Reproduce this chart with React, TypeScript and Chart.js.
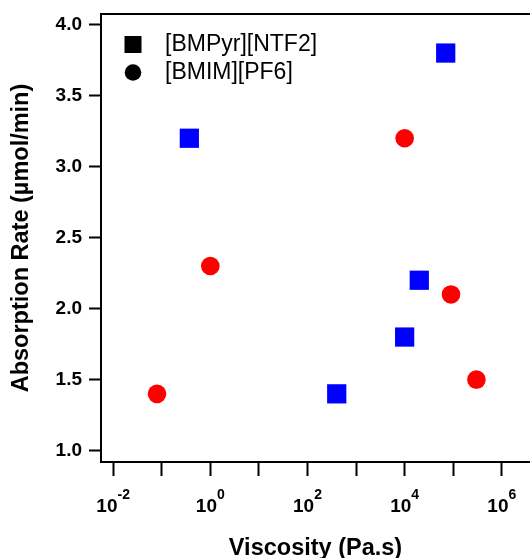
import React, { useEffect, useRef } from 'react';
import { Chart, registerables } from 'chart.js';

Chart.register(...registerables);

// ---- data ----
const seriesNames = ['[BMPyr][NTF2]', '[BMIM][PF6]'];
const ntf2Viscosity = [0.37, 400, 1e4, 2e4, 7e4];
const ntf2Rate = [3.2, 1.4, 1.8, 2.2, 3.8];
const pf6Viscosity = [0.08, 1, 1e4, 9e4, 3e5];
const pf6Rate = [1.4, 2.3, 3.2, 2.1, 1.5];
const xTickExponents = [-2, -1, 0, 1, 2, 3, 4, 5, 6];
const xLabelExponents = [-2, 0, 2, 4, 6];
const yTicks = [1.0, 1.5, 2.0, 2.5, 3.0, 3.5, 4.0];
const xTitle = 'Viscosity (Pa.s)';
const yTitle = 'Absorption Rate (µmol/min)';
const xMin = Math.pow(10, -2.25);
const xMax = Math.pow(10, 6.58);
const yMin = 0.92;
const yMax = 4.075;

const FONT = '"Liberation Sans", Arial, Helvetica, sans-serif';

const decorPlugin = {
  id: 'decor',
  afterDraw(chart: any) {
    const { ctx, chartArea } = chart;
    const { left, top, right } = chartArea;
    ctx.save();
    // top frame line
    ctx.strokeStyle = '#000';
    ctx.lineWidth = 2;
    ctx.beginPath();
    ctx.moveTo(left - 1, top);
    ctx.lineTo(right, top);
    ctx.stroke();

    // x tick labels with superscript exponents
    const xs = chart.scales.x;
    ctx.fillStyle = '#000';
    ctx.textBaseline = 'alphabetic';
    ctx.textAlign = 'left';
    xLabelExponents.forEach((e) => {
      const px = xs.getPixelForValue(Math.pow(10, e));
      ctx.font = `bold 19px ${FONT}`;
      const w1 = ctx.measureText('10').width;
      ctx.font = `bold 14px ${FONT}`;
      const exp = String(e);
      const w2 = ctx.measureText(exp).width;
      const x0 = px - (w1 + w2) / 2;
      ctx.font = `bold 19px ${FONT}`;
      ctx.fillText('10', x0, xs.top + 50);
      ctx.font = `bold 14px ${FONT}`;
      ctx.fillText(exp, x0 + w1, xs.top + 37);
    });

    // legend
    const mx = left + 32;
    const y1 = top + 30.5;
    const y2 = top + 58.5;
    ctx.fillStyle = '#000';
    ctx.fillRect(mx - 8.5, y1 - 8.5, 17, 17);
    ctx.beginPath();
    ctx.arc(mx, y2, 8.3, 0, Math.PI * 2);
    ctx.fill();
    ctx.font = `23px ${FONT}`;
    ctx.textBaseline = 'middle';
    ctx.fillText(seriesNames[0], left + 64, y1 + 0.5);
    ctx.fillText(seriesNames[1], left + 64, y2 + 0.5);
    ctx.restore();
  },
};

export default function App() {
  const ref = useRef<HTMLCanvasElement | null>(null);

  useEffect(() => {
    if (!ref.current) return;
    const chart = new Chart(ref.current, {
      type: 'scatter',
      data: {
        datasets: [
          {
            label: seriesNames[0],
            data: ntf2Viscosity.map((x, i) => ({ x, y: ntf2Rate[i] })),
            pointStyle: 'rect',
            pointRadius: 13.6,
            backgroundColor: '#0000ff',
            borderWidth: 0,
            borderColor: '#0000ff',
          },
          {
            label: seriesNames[1],
            data: pf6Viscosity.map((x, i) => ({ x, y: pf6Rate[i] })),
            pointStyle: 'circle',
            pointRadius: 9.3,
            backgroundColor: '#ff0000',
            borderWidth: 0,
            borderColor: '#ff0000',
          },
        ],
      },
      options: {
        responsive: false,
        animation: false,
        events: [],
        layout: { autoPadding: false, padding: { left: 0, right: 0, top: 14, bottom: 0 } },
        plugins: {
          legend: { display: false },
          tooltip: { enabled: false },
        },
        scales: {
          x: {
            type: 'logarithmic',
            min: xMin,
            max: xMax,
            afterBuildTicks: (scale: any) => {
              scale.ticks = xTickExponents.map((e) => ({ value: Math.pow(10, e) }));
            },
            afterFit: (scale: any) => {
              scale.height = 96;
            },
            ticks: {
              callback: () => '',
              autoSkip: false,
              maxRotation: 0,
              padding: 0,
              font: { size: 1, lineHeight: 1 },
            },
            grid: {
              drawOnChartArea: false,
              drawTicks: true,
              tickLength: 14,
              tickWidth: 2,
              tickColor: '#000',
            },
            border: { display: true, color: '#000', width: 2 },
            title: {
              display: true,
              text: xTitle,
              color: '#000',
              font: { family: FONT, size: 23.5, weight: 'bold', lineHeight: 0.8 },
              padding: { top: 0, bottom: 0 },
            },
          },
          y: {
            type: 'linear',
            min: yMin,
            max: yMax,
            afterBuildTicks: (scale: any) => {
              scale.ticks = yTicks.map((v) => ({ value: v }));
            },
            afterFit: (scale: any) => {
              scale.width = 101;
              scale.paddingTop = 0;
              scale.paddingBottom = 0;
            },
            ticks: {
              callback: (v: any) => Number(v).toFixed(1),
              color: '#000',
              font: { family: FONT, size: 19, weight: 'bold', lineHeight: 1 },
              padding: 7,
              autoSkip: false,
            },
            grid: {
              drawOnChartArea: false,
              drawTicks: true,
              tickLength: 12,
              tickWidth: 2,
              tickColor: '#000',
            },
            border: { display: true, color: '#000', width: 2 },
            title: {
              display: true,
              text: yTitle,
              color: '#000',
              font: { family: FONT, size: 23.5, weight: 'bold', lineHeight: 1.2 },
              padding: { top: 7, bottom: 0 },
            },
          },
        },
      },
      plugins: [decorPlugin],
    } as any);
    return () => chart.destroy();
  }, []);

  return (
    <div style={{ position: 'absolute', left: 0, top: 0, width: 530, height: 558, background: '#fff' }}>
      <canvas ref={ref} width={530} height={558} style={{ display: 'block', width: 530, height: 558 }} />
    </div>
  );
}
